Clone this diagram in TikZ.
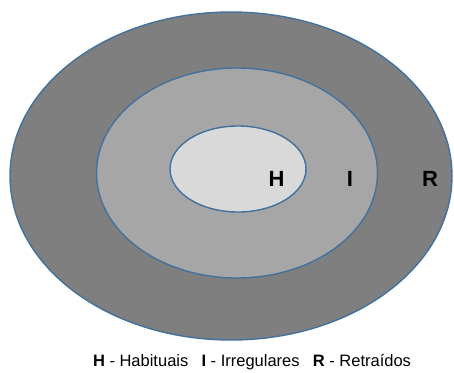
\documentclass[tikz,border=0pt]{standalone}
\usepackage{fontspec}
\setmainfont{Liberation Sans}
\usepackage{xcolor}
\usepackage{tikz}
\usetikzlibrary{shapes.geometric,positioning}
\definecolor{rim}{HTML}{41719C}
\definecolor{outergray}{HTML}{7F7F7F}
\definecolor{midgray}{HTML}{A6A6A6}
\definecolor{innergray}{HTML}{D9D9D9}

\begin{document}
\begin{tikzpicture}[x=1pt,y=-1pt,
  ring/.style={ellipse,draw=rim,line width=1.4pt,inner sep=0pt},
  tag/.style={font=\fontsize{22}{24}\selectfont\bfseries,anchor=base}]
  \useasboundingbox (0,0) rectangle (454,372);
  \node[ring,fill=outergray,minimum width=442pt,minimum height=328pt] (retr) at (231,176) {};
  \node[ring,fill=midgray,minimum width=281pt,minimum height=210pt] (irreg) at (237,173) {};
  \node[ring,fill=innergray,minimum width=136pt,minimum height=86pt] (habit) at (238,169) {};
  \node[tag] (h) at (276.5,186.5) {H};
  \node[tag] (i) at (350,186.5) {I};
  \node[tag] (r) at (430,186.5) {R};
  \node[font=\fontsize{16.5}{18}\selectfont,anchor=base] (legend) at (252,366.5)
    {\textbf{H} - Habituais\hspace{0.8em}\textbf{I} - Irregulares\hspace{0.8em}\textbf{R} - Retraídos};
\end{tikzpicture}
\end{document}
